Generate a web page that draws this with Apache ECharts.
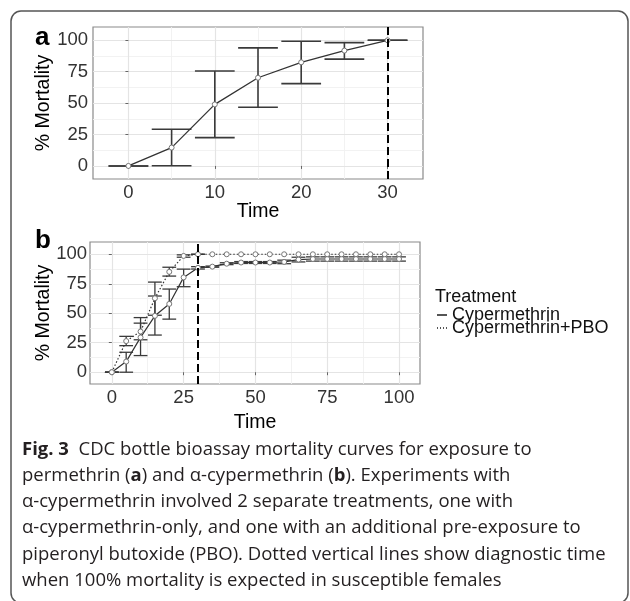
<!DOCTYPE html>
<html>
<head>
<meta charset="utf-8">
<script src="https://cdn.jsdelivr.net/npm/echarts@6/dist/echarts.min.js"></script>
<style>
html,body{margin:0;padding:0;background:#fff;}
#chart{width:630px;height:601px;}
</style>
</head>
<body>
<div id="chart"></div>
<script>
// ---------- Panel a: permethrin ----------
const timesA = [0, 5, 10, 15, 20, 25, 30];
const mortA  = [0, 14.6, 49, 70.2, 82.5, 91.8, 100];
const lowA   = [0, 0.2, 22.5, 46.7, 65.5, 85, 100];
const highA  = [0, 29.2, 75.6, 94, 99.3, 98.2, 100];

// ---------- Panel b: alpha-cypermethrin ----------
const timesB  = [0, 5, 10, 15, 20, 25, 30, 35, 40, 45, 50, 55, 60, 65, 70, 75, 80, 85, 90, 95, 100];
const cypMort = [0, 9, 29.5, 47.8, 57.9, 80.4, 88.5, 89.5, 92, 93, 93, 93, 93.5, 95.5, 96, 96, 96, 96, 96, 96, 96];
const cypLow  = [0, 0, 14.1, 31.5, 45, 72.5, 87.5, 89, 91.2, 92.2, 92.2, 92.2, 92, 93.5, 94.2, 94.2, 94.2, 94.2, 94.2, 94.2, 94.2];
const cypHigh = [0, 16.9, 41.6, 64.6, 70.5, 87.4, 89.5, 90, 92.8, 93.8, 93.8, 93.8, 95, 97.5, 97.8, 97.8, 97.8, 97.8, 97.8, 97.8, 97.8];
const pboMort = [0, 26.4, 34.5, 62.7, 85.1, 98.6, 100, 100, 100, 100, 100, 100, 100, 100, 100, 100, 100, 100, 100, 100, 100];
const pboLow  = [0, 22.5, 27.5, 48.3, 81.5, 97.5, 100, null, null, null, null, null, null, null, null, null, null, null, null, null, null];
const pboHigh = [0, 30.4, 46.3, 76.4, 89, 99.5, 100, null, null, null, null, null, null, null, null, null, null, null, null, null, null];

const seriesNames = ['Cypermethrin', 'Cypermethrin+PBO'];
const legendTitle = 'Treatment';
const diagnosticTime = 30;

// tick labels
const xTicksA = [0, 10, 20, 30];
const xMinorA = [5, 15, 25];
const xTicksB = [0, 25, 50, 75, 100];
const xMinorB = [12.5, 37.5, 62.5, 87.5];
const yTicks  = [0, 25, 50, 75, 100];
const yMinor  = [12.5, 37.5, 62.5, 87.5];

const captionLines = [
  '{b|Fig. 3}  CDC bottle bioassay mortality curves for exposure to',
  'permethrin ({b|a}) and α-cypermethrin ({b|b}). Experiments with',
  'α-cypermethrin involved 2 separate treatments, one with',
  'α-cypermethrin-only, and one with an additional pre-exposure to',
  'piperonyl butoxide (PBO). Dotted vertical lines show diagnostic time',
  'when 100% mortality is expected in susceptible females'
];

// ---------- styling ----------
const FONT = 'Liberation Sans, Arial, Helvetica, sans-serif';
const CAPFONT = 'Open Sans, Lato, sans-serif';
const gridA = {left: 93, top: 27, width: 330, height: 152};
const gridB = {left: 90, top: 242, width: 330, height: 142};
const xRangeA = [-4.1, 34.1];
const xRangeB = [-7.6, 107.3];
const yRangeA = [-10.4, 110.6];
const yRangeB = [-10, 110.4];

function errData(t, lo, hi) {
  const out = [];
  t.forEach((v, i) => { if (lo[i] != null && hi[i] != null) out.push([v, lo[i], hi[i]]); });
  return out;
}
function errRender(half, color, width) {
  return function (params, api) {
    const x = api.value(0), lo = api.value(1), hi = api.value(2);
    const top = api.coord([x, hi]);
    const bot = api.coord([x, lo]);
    const l = api.coord([x - half, hi])[0];
    const r = api.coord([x + half, hi])[0];
    const st = {stroke: color, lineWidth: width, fill: null};
    return {type: 'group', children: [
      {type: 'line', shape: {x1: top[0], y1: top[1], x2: bot[0], y2: bot[1]}, style: st},
      {type: 'line', shape: {x1: l, y1: top[1], x2: r, y2: top[1]}, style: st},
      {type: 'line', shape: {x1: l, y1: bot[1], x2: r, y2: bot[1]}, style: st}
    ]};
  };
}
const MAJOR = {color: '#e4e4e4', width: 1.2, type: 'solid'};
const MINOR = {color: '#f0f0f0', width: 0.9, type: 'solid'};
function gridLines(xMajor, xMinor) {
  const d = [];
  xMinor.forEach(v => d.push({xAxis: v, lineStyle: MINOR}));
  yMinor.forEach(v => d.push({yAxis: v, lineStyle: MINOR}));
  xMajor.forEach(v => d.push({xAxis: v, lineStyle: MAJOR}));
  yTicks.forEach(v => d.push({yAxis: v, lineStyle: MAJOR}));
  return {silent: true, z: 0, symbol: ['none', 'none'], animation: false, label: {show: false},
          emphasis: {disabled: true}, lineStyle: MAJOR, data: d};
}
function mainX(gi, range, ticks, gap) {
  return {
    type: 'value', gridIndex: gi, min: range[0], max: range[1], position: 'bottom',
    name: 'Time', nameLocation: 'middle', nameGap: gap, nameMoveOverlap: false,
    nameTextStyle: {fontFamily: FONT, fontSize: 19.5, color: '#000'},
    axisLine: {show: false},
    axisTick: {show: true, length: 3, customValues: ticks, lineStyle: {color: '#666', width: 1}},
    axisLabel: {customValues: ticks, fontFamily: FONT, fontSize: 18.5, color: '#333', margin: 4},
    splitLine: {show: false}
  };
}
function mainY(gi, range, gap, margin) {
  return {
    type: 'value', gridIndex: gi, min: range[0], max: range[1], position: 'left',
    name: '% Mortality', nameLocation: 'middle', nameGap: gap, nameMoveOverlap: false,
    nameTextStyle: {fontFamily: FONT, fontSize: 19.5, color: '#000'},
    axisLine: {show: false},
    axisTick: {show: true, length: 3, customValues: yTicks, lineStyle: {color: '#666', width: 1}},
    axisLabel: {customValues: yTicks, fontFamily: FONT, fontSize: 18.5, color: '#333', margin: margin},
    splitLine: {show: false}
  };
}
const vline = {
  silent: true, z: 10, symbol: ['none', 'none'], animation: false,
  label: {show: false}, emphasis: {disabled: true},
  lineStyle: {type: [8, 4], color: '#000', width: 2},
  data: [{xAxis: diagnosticTime}]
};
const pointStyle = {color: '#fff', borderColor: '#777', borderWidth: 1};

const chart = echarts.init(document.getElementById('chart'), null, {renderer: 'canvas'});
const captionGraphics = captionLines.map((txt, i) => ({
  type: 'text', left: 22, top: 453 + i * 26.2 - 13,
  style: {
    text: txt, fontFamily: CAPFONT, fontSize: 18.5, fill: '#231f20',
    rich: {b: {fontFamily: CAPFONT, fontSize: 18.5, fontWeight: 'bold', fill: '#231f20'}}
  }
}));

chart.setOption({
  animation: false,
  backgroundColor: '#fff',
  grid: [
    Object.assign({show: true, borderColor: '#8a8a8a', borderWidth: 1.2, backgroundColor: 'transparent'}, gridA),
    Object.assign({show: true, borderColor: '#8a8a8a', borderWidth: 1.2, backgroundColor: 'transparent'}, gridB)
  ],
  xAxis: [
    mainX(0, xRangeA, xTicksA, 23),
    mainX(1, xRangeB, xTicksB, 29)
  ],
  yAxis: [
    mainY(0, yRangeA, 39, 5),
    mainY(1, yRangeB, 36, 3)
  ],
  legend: {
    orient: 'vertical', left: 437, top: 306, padding: 0,
    itemWidth: 10, itemHeight: 2, itemGap: -5, symbolKeepAspect: false,
    selectedMode: false,
    textStyle: {fontFamily: FONT, fontSize: 18, color: '#111'},
    data: [
      {name: seriesNames[0], icon: 'path://M0,0H10V1H0Z', itemStyle: {color: '#555', borderWidth: 0}},
      {name: seriesNames[1], icon: 'path://M0,0H1V1H0ZM3,0H4V1H3ZM6,0H7V1H6ZM9,0H10V1H9Z', itemStyle: {color: '#555', borderWidth: 0}}
    ]
  },
  graphic: [
    {type: 'rect', shape: {x: 11, y: 11, width: 617, height: 592, r: 10}, style: {fill: 'none', stroke: '#555', lineWidth: 1.5}, silent: true, z: -1},
    {type: 'text', left: 35, top: 25, style: {text: 'a', font: 'bold 26px ' + FONT, fill: '#000'}},
    {type: 'text', left: 35, top: 228, style: {text: 'b', font: 'bold 26px ' + FONT, fill: '#000'}},
    {type: 'text', left: 435, top: 288, style: {text: legendTitle, font: '18px ' + FONT, fill: '#111'}}
  ].concat(captionGraphics),
  series: [
    // panel a
    {type: 'line', name: 'gridA', xAxisIndex: 0, yAxisIndex: 0, z: 0, silent: true,
     data: timesA.map((t, i) => [t, mortA[i]]), symbol: 'none',
     lineStyle: {opacity: 0}, markLine: gridLines(xTicksA, xMinorA)},
    {type: 'custom', name: 'errA', xAxisIndex: 0, yAxisIndex: 0, z: 2,
     renderItem: errRender(2.3, '#3a3a3a', 1.6), encode: {x: 0, y: [1, 2]},
     data: errData(timesA, lowA, highA)},
    {type: 'line', name: 'permethrin', xAxisIndex: 0, yAxisIndex: 0, z: 3,
     data: timesA.map((t, i) => [t, mortA[i]]),
     symbol: 'circle', symbolSize: 5, itemStyle: pointStyle,
     lineStyle: {color: '#333', width: 1.3}, markLine: vline},
    // panel b
    {type: 'line', name: 'gridB', xAxisIndex: 1, yAxisIndex: 1, z: 0, silent: true,
     data: timesB.map((t, i) => [t, cypMort[i]]), symbol: 'none',
     lineStyle: {opacity: 0}, markLine: gridLines(xTicksB, xMinorB)},
    {type: 'custom', name: 'errCyp', xAxisIndex: 1, yAxisIndex: 1, z: 2,
     renderItem: errRender(2.4, '#3a3a3a', 1.3), encode: {x: 0, y: [1, 2]},
     data: errData(timesB, cypLow, cypHigh)},
    {type: 'custom', name: 'errPbo', xAxisIndex: 1, yAxisIndex: 1, z: 2,
     renderItem: errRender(2.4, '#3a3a3a', 1.3), encode: {x: 0, y: [1, 2]},
     data: errData(timesB, pboLow, pboHigh)},
    {type: 'line', name: seriesNames[0], xAxisIndex: 1, yAxisIndex: 1, z: 3,
     data: timesB.map((t, i) => [t, cypMort[i]]),
     symbol: 'circle', symbolSize: 5, itemStyle: pointStyle,
     lineStyle: {color: '#333', width: 1.2}},
    {type: 'line', name: seriesNames[1], xAxisIndex: 1, yAxisIndex: 1, z: 3,
     data: timesB.map((t, i) => [t, pboMort[i]]),
     symbol: 'circle', symbolSize: 5, itemStyle: pointStyle,
     lineStyle: {color: '#333', width: 1.2, type: [1.5, 2]}, markLine: vline}
  ]
});
</script>
</body>
</html>
